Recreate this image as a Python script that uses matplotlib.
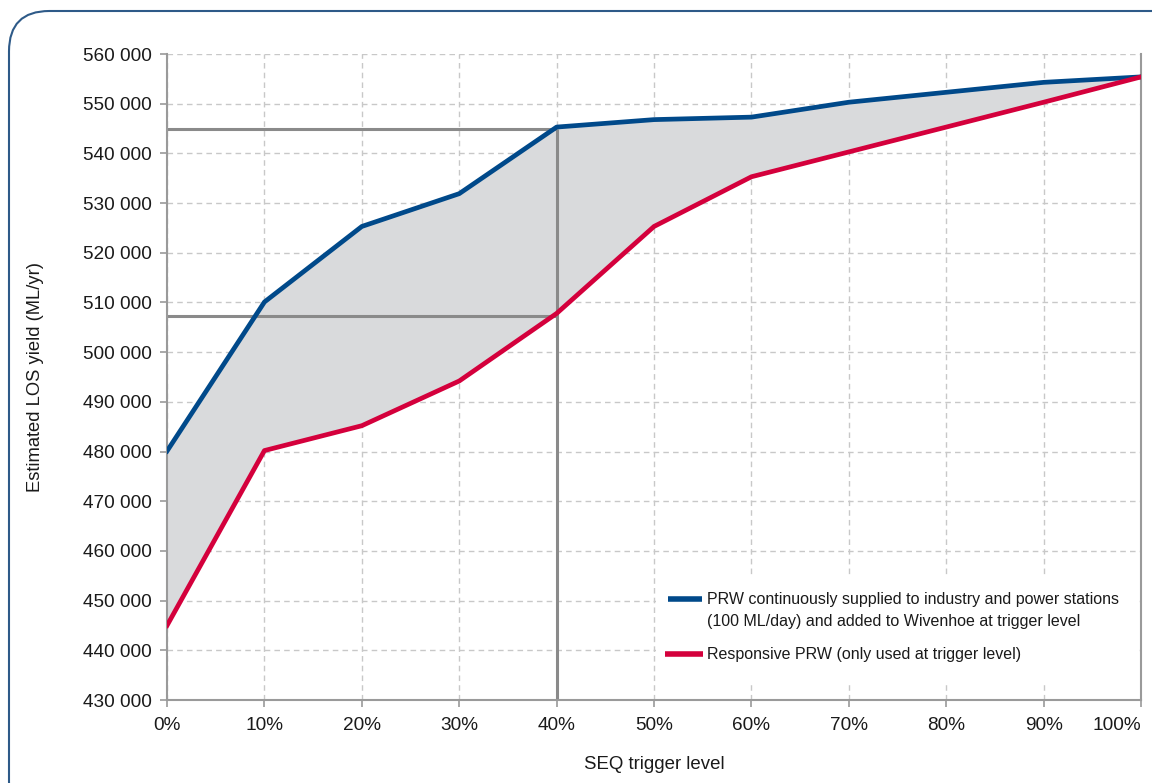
import matplotlib
matplotlib.use("Agg")
import matplotlib.pyplot as plt
from matplotlib.patches import FancyBboxPatch, Rectangle
from matplotlib.ticker import FuncFormatter

plt.rcParams['font.family'] = ['Liberation Sans', 'DejaVu Sans']

trigger = [0, 10, 20, 30, 40, 50, 60, 70, 80, 90, 100]
continuous = [480100, 510100, 525300, 531900, 545300, 546800, 547300, 550300, 552300, 554300, 555400]
responsive = [445000, 480200, 485200, 494200, 507800, 525300, 535300, 540300, 545300, 550300, 555400]
label_continuous = ["PRW continuously supplied to industry and power stations",
                    "(100 ML/day) and added to Wivenhoe at trigger level"]
label_responsive = "Responsive PRW (only used at trigger level)"
ref_x = 40
ref_hi = 545000
ref_lo = 507200
y_ticks = list(range(430000, 560001, 10000))
x_ticks = list(range(0, 101, 10))

blue = '#00498a'
red = '#d4003c'
grey = '#8a8a8a'
txt = '#1a1a1a'

fig = plt.figure(figsize=(11.52, 7.83), dpi=100)
ax = fig.add_axes([0.145, 0.106, 0.8455, 0.825])

ax.fill_between(trigger, responsive, continuous, color='#d9dadc', lw=0, zorder=1)
ax.plot([0, ref_x], [ref_hi, ref_hi], color=grey, lw=2.2, zorder=2, solid_capstyle='butt')
ax.plot([0, ref_x], [ref_lo, ref_lo], color=grey, lw=2.2, zorder=2, solid_capstyle='butt')
ax.plot([ref_x, ref_x], [430000, ref_hi], color=grey, lw=2.2, zorder=2, solid_capstyle='butt')
ax.plot(trigger, continuous, color=blue, lw=3.4, zorder=3)
ax.plot(trigger, responsive, color=red, lw=3.4, zorder=3)

ax.set_xlim(0, 100)
ax.set_ylim(430000, 560000)
ax.set_xticks(x_ticks)
ax.set_yticks(y_ticks)
ax.xaxis.set_major_formatter(FuncFormatter(lambda v, p: f"{int(v)}%"))
ax.yaxis.set_major_formatter(FuncFormatter(lambda v, p: f"{int(v):,}".replace(",", " ")))
ax.grid(True, color='#c8c8c8', linestyle=(0, (4, 3)), lw=1, zorder=0)
ax.set_axisbelow(True)
for s in ['left', 'bottom', 'right']:
    ax.spines[s].set_color('#9a9a9a')
    ax.spines[s].set_linewidth(1.5)
ax.spines['top'].set_visible(False)
ax.tick_params(axis='both', colors='#9a9a9a', labelcolor=txt, labelsize=13.7, length=5, width=1.2)
ax.tick_params(axis='x', pad=7)
ax.tick_params(axis='y', pad=6)
fig.canvas.draw()
xlabels = ax.get_xticklabels()
xlabels[-1].set_horizontalalignment('right')

ax.set_xlabel("SEQ trigger level", fontsize=13.4, color=txt, labelpad=16)
ax.set_ylabel("Estimated LOS yield (ML/yr)", fontsize=13.2, color=txt, labelpad=28)

# legend (manual layout, axes-fraction coordinates) with white background box
tr = ax.transAxes
ax.add_patch(Rectangle((0.502, 0.026), 0.494, 0.166, transform=tr, facecolor='white',
                       edgecolor='none', zorder=0.8))
ax.plot([0.514, 0.549], [0.156, 0.156], color=blue, lw=4, transform=tr, clip_on=False, zorder=5, solid_capstyle='butt')
ax.plot([0.511, 0.550], [0.071, 0.071], color=red, lw=4, transform=tr, clip_on=False, zorder=5, solid_capstyle='butt')
ax.text(0.554, 0.156, label_continuous[0], transform=tr, fontsize=11.5, color=txt, va='center', ha='left', zorder=5)
ax.text(0.554, 0.121, label_continuous[1], transform=tr, fontsize=11.5, color=txt, va='center', ha='left', zorder=5)
ax.text(0.554, 0.071, label_responsive, transform=tr, fontsize=11.5, color=txt, va='center', ha='left', zorder=5)

border = FancyBboxPatch((9 / 1152, -0.05), 1.2, 1 - 11 / 783 + 0.05,
                        boxstyle="round,pad=0,rounding_size=0.035",
                        transform=fig.transFigure, fill=False,
                        edgecolor='#2e5a88', lw=1.5, mutation_aspect=1152 / 783)
fig.patches.append(border)

fig.savefig("out.png", dpi=100)
